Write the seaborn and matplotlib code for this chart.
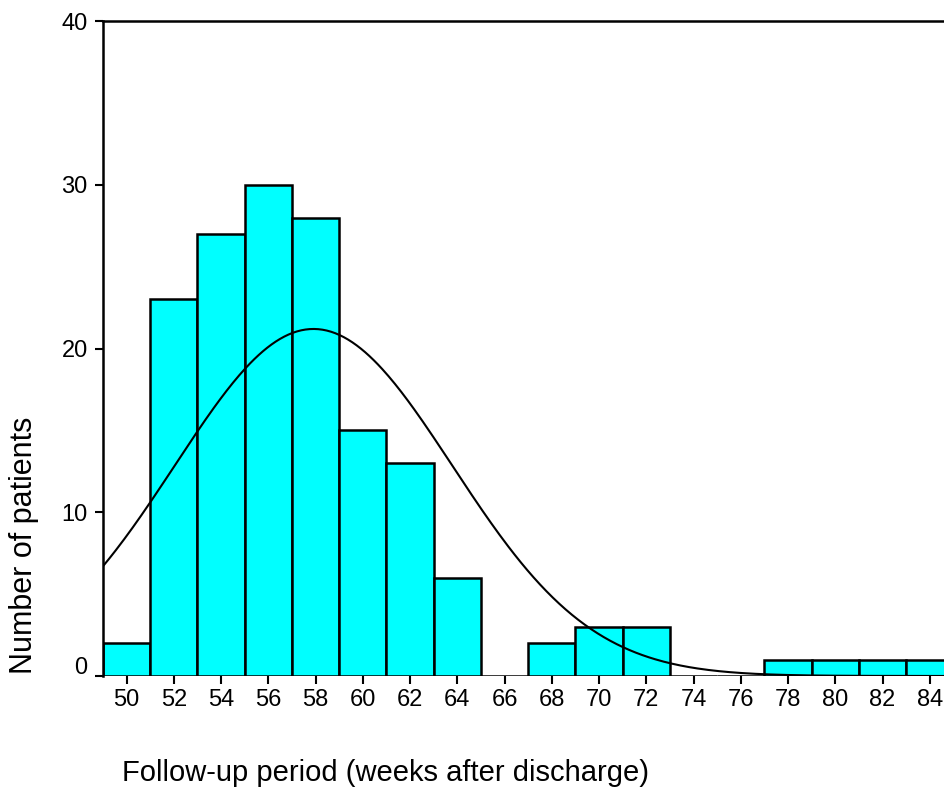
import numpy as np
import pandas as pd
import seaborn as sns
import matplotlib.pyplot as plt
import matplotlib.transforms as mtransforms

sns.set_theme(style="ticks")
plt.rcParams['font.family'] = ['Liberation Sans', 'DejaVu Sans']
plt.rcParams['text.color'] = 'black'

# bin centres (weeks) and patient counts
weeks = [50, 52, 54, 56, 58, 60, 62, 64, 66, 68, 70, 72, 74, 76, 78, 80, 82, 84]
patients = [2, 23, 27, 30, 28, 15, 13, 6, 0, 2, 3, 3, 0, 0, 1, 1, 1, 1]
bin_width = 2

df = pd.DataFrame({'weeks': weeks, 'patients': patients})

# fitted normal curve from the binned data
n = df['patients'].sum()
mean = np.average(df['weeks'], weights=df['patients'])
sd = np.sqrt(np.sum(df['patients'] * (df['weeks'] - mean) ** 2) / (n - 1))
xs = np.linspace(49, 85, 400)
curve = pd.DataFrame({
    'x': xs,
    'y': n * bin_width * np.exp(-0.5 * ((xs - mean) / sd) ** 2) / (sd * np.sqrt(2 * np.pi)),
})

fig = plt.figure(figsize=(9.44, 7.89), dpi=100)
ax = fig.add_axes([103 / 944, 1 - 676 / 789, 1 - 103 / 944, (676 - 21) / 789])

bins = [w - bin_width / 2 for w in weeks] + [weeks[-1] + bin_width / 2]
sns.histplot(x=df['weeks'], weights=df['patients'], bins=bins, ax=ax,
             color='#00FFFF', alpha=1, edgecolor='black', linewidth=1.8)
sns.lineplot(data=curve, x='x', y='y', ax=ax, color='black', linewidth=1.5)

ax.set_xlim(49, 84.6)
ax.set_ylim(0, 40)
ax.set_xticks(weeks)
ax.set_yticks([0, 10, 20, 30, 40])
ax.set_xlabel('')
ax.set_ylabel('')

ax.spines['bottom'].set_visible(False)
ax.spines['right'].set_visible(False)
for s in ['left', 'top']:
    ax.spines[s].set_linewidth(1.8)
    ax.spines[s].set_color('black')

ax.tick_params(axis='x', direction='out', length=6, width=1.5, labelsize=17, pad=3,
               colors='black', labelcolor='black')
ax.tick_params(axis='y', direction='out', length=6, width=1.5, labelsize=17, pad=5,
               colors='black', labelcolor='black')

# the zero label sits a little above its tick in the original
lab0 = ax.get_yticklabels()[0]
lab0.set_transform(lab0.get_transform() + mtransforms.ScaledTranslation(0, 11 / 100, fig.dpi_scale_trans))

fig.text(385 / 944, 1 - 773 / 789, 'Follow-up period (weeks after discharge)',
         ha='center', va='center', fontsize=21, color='black')
fig.text(24 / 944, 1 - 545 / 789, 'Number of patients',
         ha='center', va='center', rotation=90, fontsize=22, color='black')

fig.savefig('out.png', dpi=100)
